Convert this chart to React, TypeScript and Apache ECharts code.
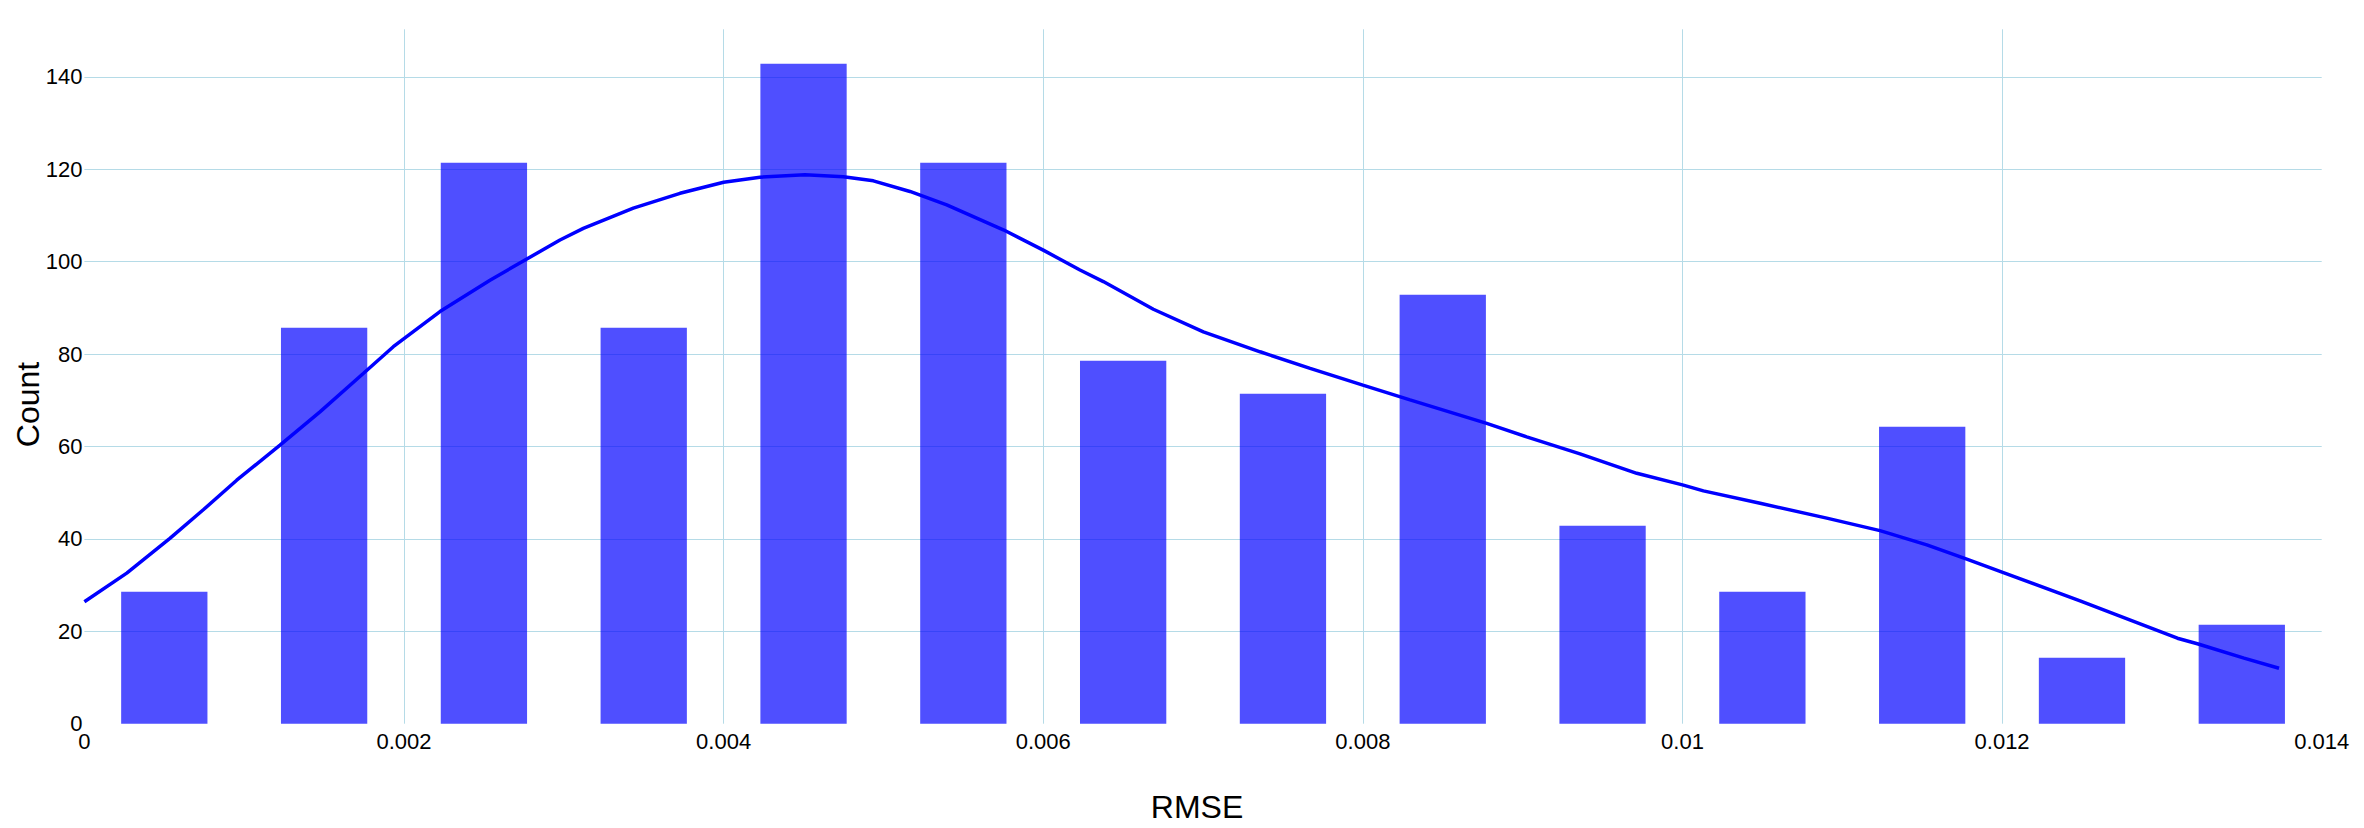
import React, { useEffect, useRef } from "react";
import * as echarts from "echarts";

// Histogram bins (centres) and counts
const binCenters = [0.0005, 0.0015, 0.0025, 0.0035, 0.0045, 0.0055, 0.0065, 0.0075, 0.0085, 0.0095, 0.0105, 0.0115, 0.0125, 0.0135];
const counts = [28.57, 85.71, 121.43, 85.71, 142.86, 121.43, 78.57, 71.43, 92.86, 42.86, 28.57, 64.29, 14.29, 21.43];
const barHalfWidth = 0.00027;

// Density curve (scaled to counts)
const kdeX = [0, 0.000265, 0.000535, 0.000744, 0.000953, 0.001224, 0.001474, 0.001745, 0.001933, 0.002225, 0.002538, 0.002976, 0.003122, 0.003435, 0.003727, 0.004, 0.004228, 0.004509, 0.004749, 0.004937, 0.005166, 0.005396, 0.00575, 0.006, 0.00623, 0.006376, 0.006689, 0.007002, 0.007357, 0.00767, 0.008, 0.008295, 0.008775, 0.009025, 0.009359, 0.009714, 0.01, 0.010131, 0.010486, 0.010903, 0.011236, 0.011529, 0.011779, 0.012008, 0.012488, 0.013097, 0.013222, 0.013514, 0.013733];
const kdeY = [26.4, 32.6, 40.1, 46.3, 52.7, 60.3, 67.5, 75.8, 81.6, 89.2, 96, 104.7, 107.2, 111.6, 114.8, 117.2, 118.3, 118.8, 118.4, 117.5, 115.2, 112.3, 106.9, 102.5, 98.2, 95.7, 89.7, 84.8, 80.5, 76.9, 73.3, 70.1, 65, 62.1, 58.4, 54.2, 51.7, 50.4, 47.7, 44.5, 41.8, 38.7, 35.6, 32.7, 26.6, 18.5, 17.3, 14.2, 12];

const xAxisTitle = "RMSE";
const yAxisTitle = "Count";

const FONT = "'Liberation Sans', Arial, Helvetica, sans-serif";
const GRID_COLOR = "#b5dbe7";

export default function App() {
  const ref = useRef<HTMLDivElement>(null);

  useEffect(() => {
    if (!ref.current) return;
    const chart = echarts.init(ref.current, undefined, { renderer: "svg" });

    const barData = binCenters.map((c, i) => [c, counts[i]]);
    const lineData = kdeX.map((x, i) => [x, kdeY[i]]);

    chart.setOption({
      animation: false,
      backgroundColor: "#ffffff",
      grid: { left: 84.4, right: 42.3, top: 29.3, bottom: 104.3, containLabel: false },
      xAxis: {
        type: "value",
        min: 0,
        max: 0.014,
        interval: 0.002,
        axisLine: { show: false },
        axisTick: { show: false },
        axisLabel: {
          color: "#000",
          fontSize: 22,
          fontFamily: FONT,
          margin: 7,
        },
        splitLine: {
          show: true,
          showMinLine: false,
          showMaxLine: false,
          lineStyle: { color: GRID_COLOR, width: 1 },
        },
      },
      yAxis: {
        type: "value",
        min: 0,
        max: 150.3,
        interval: 20,
        axisLine: { show: false },
        axisTick: { show: false },
        axisLabel: {
          color: "#000",
          fontSize: 22,
          fontFamily: FONT,
          margin: 2,
          showMaxLabel: false,
          formatter: (v: number) => (Math.abs(v % 20) < 1e-9 ? String(v) : ""),
        },
        splitLine: {
          show: true,
          showMinLine: false,
          showMaxLine: false,
          lineStyle: { color: GRID_COLOR, width: 1 },
        },
      },
      graphic: [
        {
          type: "text",
          x: 1197,
          y: 806.7,
          style: {
            text: xAxisTitle,
            fontSize: 32,
            fontFamily: FONT,
            fill: "#000",
            textAlign: "center",
            textVerticalAlign: "middle",
          },
        },
        {
          type: "text",
          x: 27.5,
          y: 404.5,
          rotation: Math.PI / 2,
          style: {
            text: yAxisTitle,
            fontSize: 32,
            fontFamily: FONT,
            fill: "#000",
            textAlign: "center",
            textVerticalAlign: "middle",
          },
        },
      ],
      series: [
        {
          type: "custom",
          name: "Histogram",
          data: barData,
          encode: { x: 0, y: 1 },
          renderItem: (params: any, api: any) => {
            const c = api.value(0);
            const v = api.value(1);
            const p0 = api.coord([c - barHalfWidth, v]);
            const p1 = api.coord([c + barHalfWidth, 0]);
            return {
              type: "rect",
              shape: { x: p0[0], y: p0[1], width: p1[0] - p0[0], height: p1[1] - p0[1] },
              style: { fill: "rgba(0,0,255,0.69)" },
            };
          },
        },
        {
          type: "line",
          name: "Density",
          data: lineData,
          showSymbol: false,
          smooth: false,
          lineStyle: { color: "#0000ff", width: 3.5 },
        },
      ],
    });

    return () => chart.dispose();
  }, []);

  return (
    <div
      ref={ref}
      style={{ position: "absolute", left: 0, top: 0, width: 2364, height: 828 }}
    />
  );
}
